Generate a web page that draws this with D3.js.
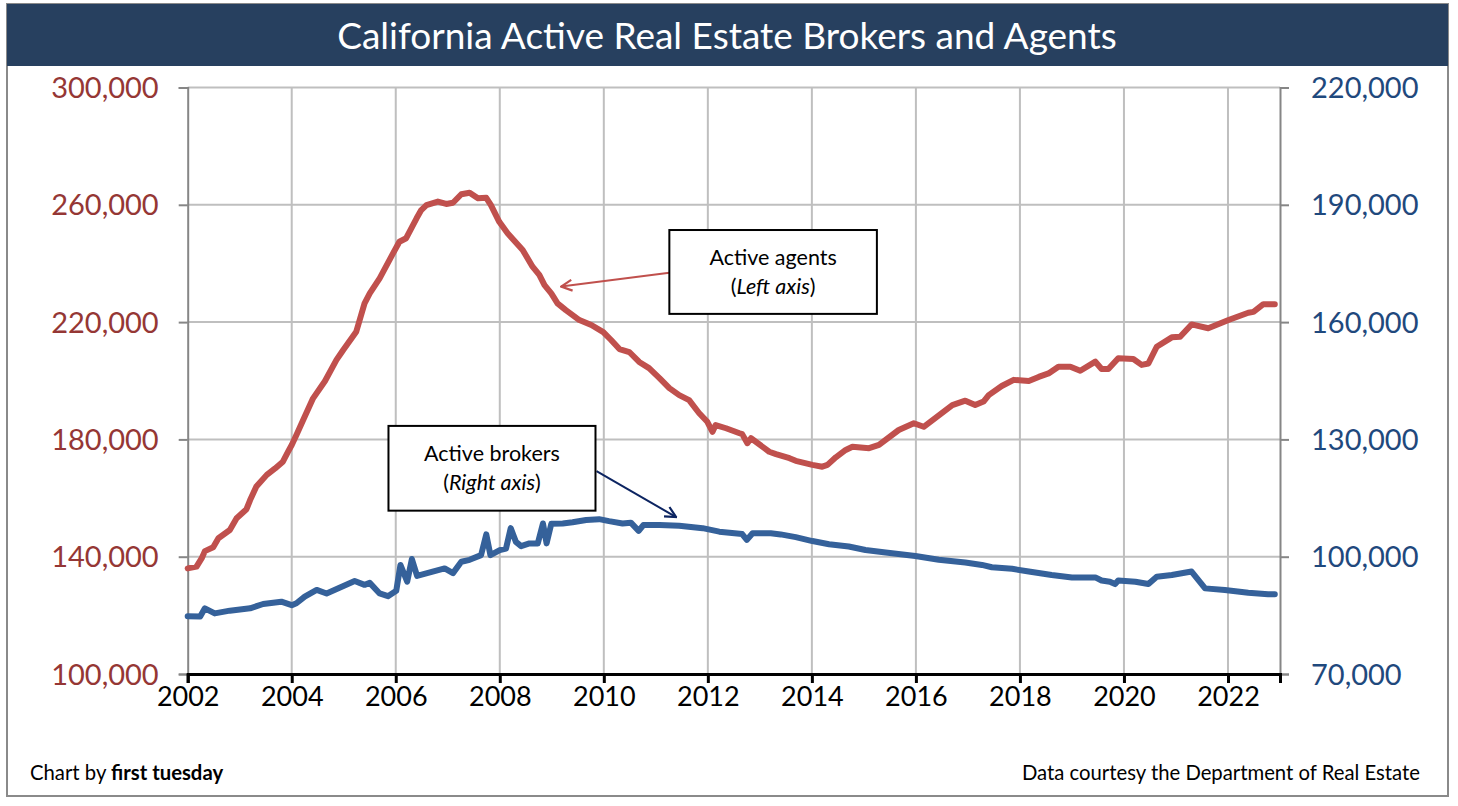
<!DOCTYPE html>
<html>
<head>
<meta charset="utf-8">
<script src="https://cdn.jsdelivr.net/npm/d3@7"></script>
<style>
  html, body { margin: 0; padding: 0; background: #fff; }
  svg { display: block; font-family: Lato, "Open Sans", sans-serif; }
</style>
</head>
<body>
<svg id="chart" width="1458" height="806"></svg>
<script>
// ---------- DATA ----------
const title = "California Active Real Estate Brokers and Agents";

// Active agents (left axis): [decimal year, count]
const agentDates = [2002.00,2002.17,2002.27,2002.33,2002.49,2002.59,2002.81,2002.94,2003.13,2003.20,2003.32,2003.52,2003.68,2003.83,2003.93,2004.00,2004.09,2004.22,2004.41,2004.64,2004.86,2004.99,2005.24,2005.40,2005.50,2005.69,2005.95,2006.07,2006.20,2006.40,2006.49,2006.59,2006.81,2006.97,2007.10,2007.26,2007.42,2007.58,2007.74,2007.83,2007.99,2008.15,2008.44,2008.63,2008.76,2008.86,2008.99,2009.11,2009.27,2009.53,2009.76,2009.99,2010.14,2010.30,2010.49,2010.68,2010.87,2011.07,2011.26,2011.45,2011.64,2011.83,2011.99,2012.09,2012.15,2012.35,2012.61,2012.66,2012.76,2012.83,2013.18,2013.31,2013.57,2013.69,2014.01,2014.20,2014.30,2014.46,2014.65,2014.78,2015.10,2015.29,2015.67,2015.96,2016.15,2016.70,2016.95,2017.14,2017.30,2017.40,2017.65,2017.88,2018.17,2018.36,2018.55,2018.74,2018.97,2019.16,2019.45,2019.57,2019.70,2019.89,2020.18,2020.34,2020.47,2020.63,2020.92,2021.08,2021.30,2021.62,2022.01,2022.39,2022.49,2022.68,2022.90];
const agentValues = [136000,136600,139500,141900,143200,146300,149100,153100,156200,159300,163900,167900,170100,172400,175800,178100,181500,186600,194000,199900,207100,210500,216700,226400,229800,234900,243500,247400,248600,255400,258200,259900,261100,260300,260700,263600,264100,262200,262400,259900,254200,250300,244600,238900,236100,232600,229800,226400,224100,220700,219000,216600,213900,210800,209800,206400,204300,200900,197500,195100,193400,189000,186000,182600,184900,183800,182100,181800,178700,180400,175800,175000,173600,172700,171300,170700,171300,173900,176400,177500,177000,178100,183200,185500,184300,191700,193200,191700,192900,195100,198200,200300,199900,201300,202500,204800,204800,203400,206500,204000,204000,207700,207400,205400,205900,211600,214800,215000,219200,217900,220700,223200,223500,226100,226100];

// Active brokers (right axis): [decimal year, count]
const brokerDates = [2002.00,2002.24,2002.33,2002.52,2002.81,2003.20,2003.45,2003.80,2004.00,2004.09,2004.25,2004.48,2004.67,2005.21,2005.40,2005.50,2005.69,2005.85,2006.01,2006.09,2006.22,2006.31,2006.41,2006.71,2006.94,2007.10,2007.26,2007.42,2007.64,2007.74,2007.82,2008.00,2008.12,2008.21,2008.31,2008.41,2008.57,2008.73,2008.83,2008.90,2008.99,2009.21,2009.40,2009.66,2009.91,2010.10,2010.36,2010.52,2010.67,2010.76,2011.07,2011.45,2011.90,2012.22,2012.66,2012.75,2012.86,2013.21,2013.40,2013.69,2014.01,2014.33,2014.71,2015.03,2015.42,2015.99,2016.44,2016.95,2017.27,2017.46,2017.85,2018.17,2018.61,2019.00,2019.45,2019.57,2019.73,2019.83,2019.89,2020.22,2020.47,2020.63,2020.92,2021.30,2021.56,2021.94,2022.39,2022.77,2022.90];
const brokerValues = [84800,84700,86800,85500,86200,86800,87900,88500,87600,88100,89800,91500,90600,93800,92800,93300,90600,89900,91300,97900,93600,99400,95100,96200,97000,95800,98700,99200,100400,105700,100400,101700,102100,107300,103800,102700,103400,103400,108500,103400,108400,108500,108800,109400,109600,109100,108500,108700,106600,108100,108100,107900,107300,106400,105800,104300,106000,106000,105700,105000,104000,103200,102600,101700,101100,100200,99200,98500,97900,97300,96900,96200,95300,94700,94700,93900,93600,93000,93900,93600,93000,94900,95300,96200,91900,91500,90800,90400,90400];

const leftTicks = [100000,140000,180000,220000,260000,300000];
const rightTicks = [70000,100000,130000,160000,190000,220000];
const yearTicks = [2002,2004,2006,2008,2010,2012,2014,2016,2018,2020,2022];

// Annotations in data units (x: year, y: left-axis value)
const agentNote = { lines: ["Active agents", "Left axis"], box: [2011.26, 251400, 2015.25, 222800], from: [2011.26, 236800], to: [2009.18, 232100] };
const brokerNote = { lines: ["Active brokers", "Right axis"], box: [2005.86, 184600, 2009.84, 155700], from: [2009.86, 169200], to: [2011.39, 153500] };

// ---------- LAYOUT ----------
const svg = d3.select("#chart");
const plot = { left: 187.7, right: 1280, top: 87.5, bottom: 674 };
const agentColor = "#c0504d", brokerColor = "#35619a";
const leftColor = "#953735", rightColor = "#1f497d";

const x = d3.scaleLinear().domain([2002, 2023]).range([plot.left, plot.right]);
const yL = d3.scaleLinear().domain([100000, 300000]).range([plot.bottom, plot.top]);
const yR = d3.scaleLinear().domain([70000, 220000]).range([plot.bottom, plot.top]);

// Outer frame
svg.append("rect").attr("x", 7).attr("y", 4).attr("width", 1441).attr("height", 792)
  .attr("fill", "#fff").attr("stroke", "#8a8a8a").attr("stroke-width", 2);
// Title bar
svg.append("rect").attr("x", 7).attr("y", 4).attr("width", 1441).attr("height", 62).attr("fill", "#27405f");
svg.append("text").attr("x", 727).attr("y", 49).attr("text-anchor", "middle")
  .attr("fill", "#fff").attr("font-size", 37).text(title);

// Gridlines
const grid = svg.append("g");
grid.selectAll("line.h").data(leftTicks).join("line")
  .attr("x1", plot.left).attr("x2", plot.right)
  .attr("y1", d => yL(d)).attr("y2", d => yL(d))
  .attr("stroke", "#bfbfbf").attr("stroke-width", 2);
grid.selectAll("line.v").data(yearTicks.slice(1)).join("line")
  .attr("x1", d => x(d)).attr("x2", d => x(d))
  .attr("y1", plot.top).attr("y2", plot.bottom)
  .attr("stroke", "#bfbfbf").attr("stroke-width", 2);

// Axes
const leftAxis = d3.axisLeft(yL).tickValues(leftTicks).tickSize(9).tickPadding(20).tickFormat(d3.format(","));
const gL = svg.append("g").attr("transform", `translate(${plot.left},0)`).call(leftAxis);
gL.select(".domain").attr("stroke", "#868686").attr("stroke-width", 2);
gL.selectAll(".tick line").attr("stroke", "#868686").attr("stroke-width", 2);
gL.selectAll(".tick text").attr("fill", leftColor).attr("font-size", 29).attr("font-family", "Lato").attr("dy", "0.35em");

const rightAxis = d3.axisRight(yR).tickValues(rightTicks).tickSize(9).tickPadding(22).tickFormat(d3.format(","));
const gR = svg.append("g").attr("transform", `translate(${plot.right},0)`).call(rightAxis);
gR.select(".domain").attr("stroke", "#868686").attr("stroke-width", 2);
gR.selectAll(".tick line").attr("stroke", "#868686").attr("stroke-width", 2);
gR.selectAll(".tick text").attr("fill", rightColor).attr("font-size", 29).attr("font-family", "Lato").attr("dy", "0.35em");

const bottomAxis = d3.axisBottom(x).tickValues(yearTicks).tickSize(9).tickPadding(4).tickFormat(d3.format("d"));
const gB = svg.append("g").attr("transform", `translate(0,${plot.bottom})`).call(bottomAxis);
gB.select(".domain").attr("stroke", "#000").attr("stroke-width", 3);
gB.selectAll(".tick line").attr("stroke", "#000").attr("stroke-width", 3);
gB.selectAll(".tick text").attr("fill", "#000").attr("font-size", 27).attr("font-family", "Lato");

// Series
const agents = agentDates.map((d, i) => [d, agentValues[i]]);
const brokers = brokerDates.map((d, i) => [d, brokerValues[i]]);
svg.append("path").datum(brokers)
  .attr("d", d3.line().x(d => x(d[0])).y(d => yR(d[1])))
  .attr("fill", "none").attr("stroke", brokerColor).attr("stroke-width", 6)
  .attr("stroke-linejoin", "round").attr("stroke-linecap", "round");
svg.append("path").datum(agents)
  .attr("d", d3.line().x(d => x(d[0])).y(d => yL(d[1])))
  .attr("fill", "none").attr("stroke", agentColor).attr("stroke-width", 6)
  .attr("stroke-linejoin", "round").attr("stroke-linecap", "round");

// Arrow markers
const defs = svg.append("defs");
function marker(id, color) {
  defs.append("marker").attr("id", id).attr("viewBox", "0 0 12 12").attr("refX", 11).attr("refY", 6)
    .attr("markerWidth", 13).attr("markerHeight", 13).attr("markerUnits", "userSpaceOnUse").attr("orient", "auto")
    .append("path").attr("d", "M1,1 L11,6 L1,11").attr("fill", "none").attr("stroke", color).attr("stroke-width", 2);
}
marker("arrA", agentColor);
marker("arrB", "#0c2461");

function note(n, color, mk) {
  const g = svg.append("g");
  g.append("line").attr("x1", x(n.from[0])).attr("y1", yL(n.from[1]))
    .attr("x2", x(n.to[0])).attr("y2", yL(n.to[1]))
    .attr("stroke", color).attr("stroke-width", 2).attr("marker-end", `url(#${mk})`);
  const x0 = x(n.box[0]), y0 = yL(n.box[1]), x1 = x(n.box[2]), y1 = yL(n.box[3]);
  g.append("rect").attr("x", x0).attr("y", y0).attr("width", x1 - x0).attr("height", y1 - y0)
    .attr("fill", "#fff").attr("stroke", "#000").attr("stroke-width", 2);
  const cx = (x0 + x1) / 2;
  g.append("text").attr("x", cx).attr("y", y0 + 35).attr("text-anchor", "middle")
    .attr("font-size", 21.5).attr("fill", "#000").text(n.lines[0]);
  const t = g.append("text").attr("x", cx).attr("y", y0 + 64).attr("text-anchor", "middle")
    .attr("font-size", 21.5).attr("fill", "#000");
  t.append("tspan").text("(");
  t.append("tspan").attr("font-style", "italic").text(n.lines[1]);
  t.append("tspan").text(")");
}
note(agentNote, agentColor, "arrA");
note(brokerNote, "#0c2461", "arrB");

// Footer
const f1 = svg.append("text").attr("x", 30).attr("y", 780).attr("font-size", 20.3).attr("fill", "#000");
f1.append("tspan").text("Chart by ");
f1.append("tspan").attr("font-weight", "bold").text("first tuesday");
svg.append("text").attr("x", 1420).attr("y", 780).attr("text-anchor", "end").attr("font-size", 20.3)
  .attr("fill", "#000").text("Data courtesy the Department of Real Estate");
</script>
</body>
</html>
